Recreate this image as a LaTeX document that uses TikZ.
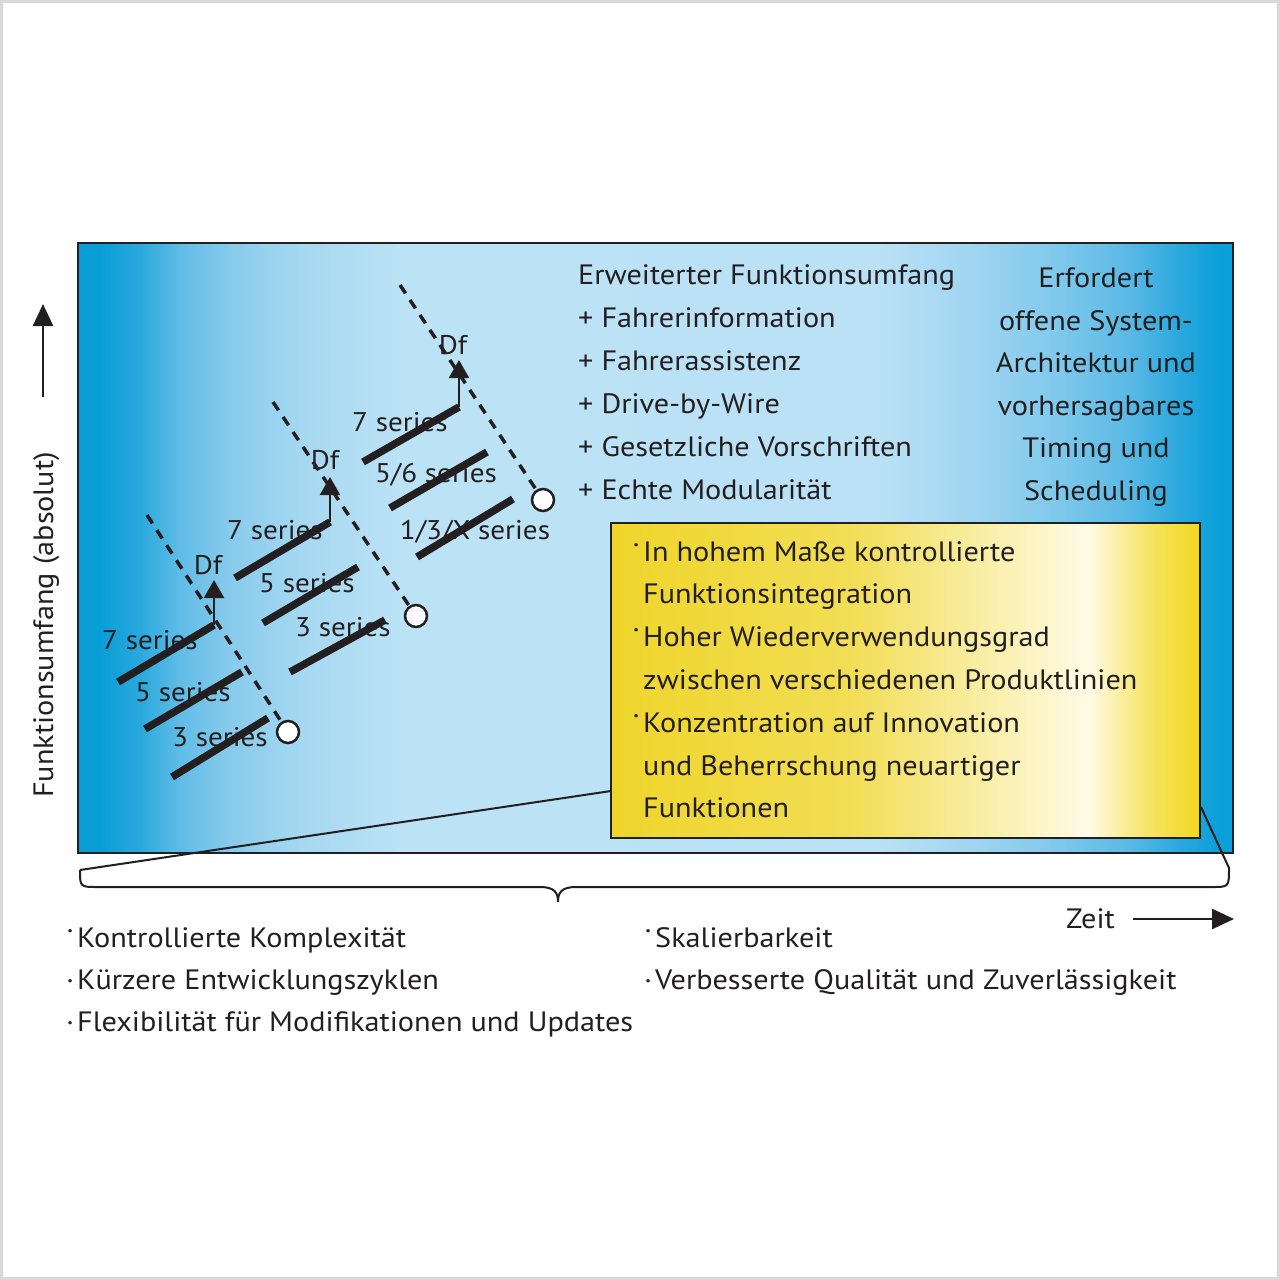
\documentclass[tikz,border=0pt]{standalone}
\usepackage{fontspec}
\setmainfont{PT Sans}[FakeStretch=1.08]
\usetikzlibrary{arrows.meta}
\definecolor{bA}{HTML}{0A9ED7}
\definecolor{bA2}{HTML}{2AA9DD}
\definecolor{bB}{HTML}{60BCE6}
\definecolor{bC}{HTML}{88CBEC}
\definecolor{bC2}{HTML}{A5D8F1}
\definecolor{bD}{HTML}{BBE2F5}
\definecolor{bE}{HTML}{BAE1F5}
\definecolor{bE2}{HTML}{9ED4F0}
\definecolor{bF}{HTML}{7EC8EC}
\definecolor{bF2}{HTML}{5AB9E5}
\definecolor{bG}{HTML}{2AA8DD}
\definecolor{bH}{HTML}{0A9FD8}
\definecolor{yA}{HTML}{EFD52A}
\definecolor{yB}{HTML}{F2DE55}
\definecolor{yC}{HTML}{FAF0B0}
\definecolor{yD}{HTML}{FFFBE6}
\definecolor{yE}{HTML}{F6E466}
\definecolor{yF}{HTML}{F2D81E}
\definecolor{ink}{HTML}{231F20}
\pgfdeclarehorizontalshading{bluebg}{100bp}{color(0bp)=(bA); color(25bp)=(bA); color(26bp)=(bA); color(27.7bp)=(bA2); color(29.4bp)=(bB); color(31.6bp)=(bC); color(34.6bp)=(bC2); color(38.9bp)=(bD); color(59.7bp)=(bE); color(64bp)=(bE2); color(67.5bp)=(bF); color(70.5bp)=(bF2); color(72.7bp)=(bG); color(74.4bp)=(bH); color(75bp)=(bH); color(100bp)=(bH)}
\pgfdeclarehorizontalshading{yellowbg}{100bp}{color(0bp)=(yA); color(25bp)=(yA); color(45.3bp)=(yB); color(58bp)=(yC); color(65.5bp)=(yD); color(70.5bp)=(yE); color(75bp)=(yF); color(100bp)=(yF)}
\newcommand\mainsz{\fontsize{28pt}{34pt}\selectfont}
\newcommand\sersz{\fontsize{27pt}{31pt}\selectfont}
\newcommand\hdot{\llap{\raisebox{.28em}{·}\hspace{3pt}}}
\newcommand\mdot{\llap{·\hspace{3pt}}}
\tikzset{
  txt/.style={inner sep=0pt, anchor=base west, text=ink, font=\mainsz},
  ctxt/.style={inner sep=0pt, anchor=base, text=ink, font=\mainsz},
  sertxt/.style={inner sep=0pt, text=ink, font=\sersz},
  bar/.style={line width=7.5pt, ink},
  dline/.style={line width=3.5pt, ink, dash pattern=on 10pt off 8pt},
  dfarrow/.style={line width=2.5pt, ink, -{Triangle[width=20pt,length=18pt]}},
  endcirc/.style={circle, draw=ink, fill=white, line width=2.5pt, minimum size=22pt, inner sep=0pt},
  thin/.style={line width=2pt, ink},
}
\begin{document}
\begin{tikzpicture}[x=1pt,y=-1pt]
\useasboundingbox (0,0) rectangle (1280,1280);
\fill[white] (0,0) rectangle (1280,1280);
\draw[line width=3pt, black!15] (1.5,1.5) rectangle (1278.5,1278.5);
% main blue panel
\shade[shading=bluebg] (78,243) rectangle (1233,853);
\draw[line width=2.5pt, ink] (78,243) rectangle (1233,853);
% connectors from yellow box to brace
\coordinate (bl) at (80,870);
\coordinate (br) at (1229,868);
\coordinate (yl) at (611,791);
\coordinate (yr) at (1201,807);
\draw[thin] (bl) -- (yl);
\draw[thin] (yr) -- (br);
% yellow box
\shade[shading=yellowbg] (611,523) rectangle (1200,838);
\draw[line width=2pt, ink] (611,523) rectangle (1200,838);
% brace
\coordinate (tip) at (558,902);
\draw[thin] (bl) .. controls (80,887) .. (98,887) -- (540,887) .. controls (555,887) and (558,893) .. (tip)
  .. controls (558,893) and (561,887) .. (576,887) -- (1212,887) .. controls (1229,887) .. (br);
% top right text
\node[txt] (t1) at (578,284) {Erweiterter Funktionsumfang};
\node[txt] (t2) at (578,327) {+ Fahrerinformation};
\node[txt] (t3) at (578,370) {+ Fahrerassistenz};
\node[txt] (t4) at (578,413) {+ Drive-by-Wire};
\node[txt] (t5) at (578,456) {+ Gesetzliche Vorschriften};
\node[txt] (t6) at (578,499) {+ Echte Modularität};
\node[ctxt] (r1) at (1096,287) {Erfordert};
\node[ctxt] (r2) at (1096,330) {offene System-};
\node[ctxt] (r3) at (1096,372) {Architektur und};
\node[ctxt] (r4) at (1096,415) {vorhersagbares};
\node[ctxt] (r5) at (1096,457) {Timing und};
\node[ctxt] (r6) at (1096,500) {Scheduling};
% yellow box text
\node[txt] (y1) at (643,561) {\hdot In hohem Maße kontrollierte};
\node[txt] (y2) at (643,603) {Funktionsintegration};
\node[txt] (y3) at (643,646) {\hdot Hoher Wiederverwendungsgrad};
\node[txt] (y4) at (643,689) {zwischen verschiedenen Produktlinien};
\node[txt] (y5) at (643,732) {\hdot Konzentration auf Innovation};
\node[txt] (y6) at (643,775) {und Beherrschung neuartiger};
\node[txt] (y7) at (643,817) {Funktionen};
% bottom text
\node[txt] (b1) at (77,947) {\hdot Kontrollierte Komplexität};
\node[txt] (b2) at (77,989) {\mdot Kürzere Entwicklungszyklen};
\node[txt] (b3) at (77,1031) {\mdot Flexibilität für Modifikationen und Updates};
\node[txt] (b4) at (655,947) {\hdot Skalierbarkeit};
\node[txt] (b5) at (655,989) {\mdot Verbesserte Qualität und Zuverlässigkeit};
% time axis
\node[txt] (zeit) at (1066,928) {Zeit};
\coordinate (za) at (1133,919);
\coordinate (zb) at (1234,919);
\draw[line width=2.5pt, ink, -{Triangle[width=20pt,length=22pt]}] (za) -- (zb);
% y axis
\node[inner sep=0pt, anchor=base, rotate=90, text=ink, font=\mainsz] (ylab) at (53,625) {Funktionsumfang (absolut)};
\coordinate (ya) at (43,397);
\coordinate (yb) at (43,304);
\draw[line width=2.5pt, ink, -{Triangle[width=20pt,length=22pt]}] (ya) -- (yb);
% ---- series labels (under the bars)
\node[sertxt] (l7a) at (150,640) {7 series};
\node[sertxt] (l5a) at (183,692) {5 series};
\node[sertxt] (l3a) at (220,737) {3 series};
\node[sertxt] (dfa) at (208,565) {Df};
\node[sertxt] (l7b) at (275,530) {7 series};
\node[sertxt] (l5b) at (307,583) {5 series};
\node[sertxt] (l3b) at (343,627) {3 series};
\node[sertxt] (dfb) at (325,460) {Df};
\node[sertxt] (l7c) at (400,422) {7 series};
\node[sertxt] (l5c) at (436,475) {5/6 series};
\node[sertxt] (l3c) at (475,532) {1/3/X series};
\node[sertxt] (dfc) at (453,345) {Df};
% ---- group A
\node[endcirc] (ca) at (288,732) {};
\coordinate (da) at (147,515);
\draw[dline] (da) -- (ca);
\coordinate (a7s) at (118,682); \coordinate (a7e) at (214,625);
\coordinate (a5s) at (145,729); \coordinate (a5e) at (242,672);
\coordinate (a3s) at (172,777); \coordinate (a3e) at (268,718);
\draw[bar] (a7s) -- (a7e);
\draw[bar] (a5s) -- (a5e);
\draw[bar] (a3s) -- (a3e);
\coordinate (aup) at (214,580);
\draw[dfarrow] (a7e) -- (aup);
% ---- group B
\node[endcirc] (cb) at (416,616) {};
\coordinate (db) at (273,402);
\draw[dline] (db) -- (cb);
\coordinate (b7s) at (235,578); \coordinate (b7e) at (330,522);
\coordinate (b5s) at (263,623); \coordinate (b5e) at (358,567);
\coordinate (b3s) at (290,672); \coordinate (b3e) at (385,620);
\draw[bar] (b7s) -- (b7e);
\draw[bar] (b5s) -- (b5e);
\draw[bar] (b3s) -- (b3e);
\coordinate (bup) at (330,477);
\draw[dfarrow] (b7e) -- (bup);
% ---- group C
\node[endcirc] (cc) at (543,500) {};
\coordinate (dc) at (400,285);
\draw[dline] (dc) -- (cc);
\coordinate (c7s) at (363,462); \coordinate (c7e) at (459,407);
\coordinate (c5s) at (390,508); \coordinate (c5e) at (487,452);
\coordinate (c3s) at (417,557); \coordinate (c3e) at (513,499);
\draw[bar] (c7s) -- (c7e);
\draw[bar] (c5s) -- (c5e);
\draw[bar] (c3s) -- (c3e);
\coordinate (cup) at (459,360);
\draw[dfarrow] (c7e) -- (cup);
\end{tikzpicture}
\end{document}
